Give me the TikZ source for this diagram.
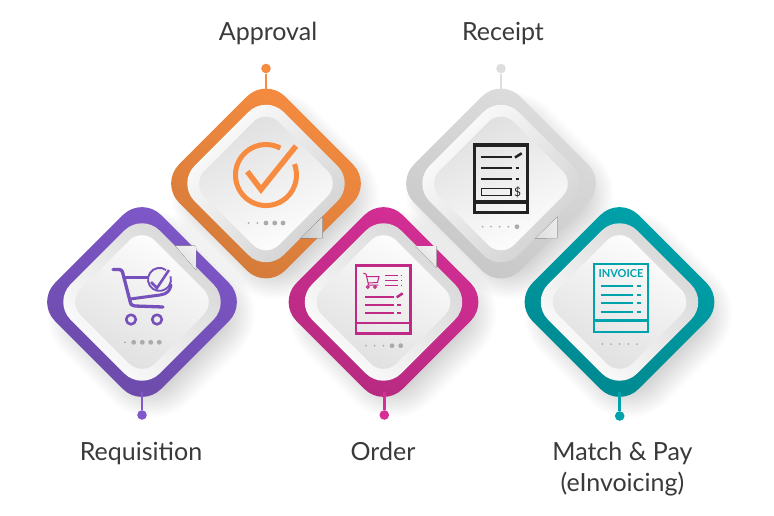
\documentclass[tikz,border=0pt]{standalone}
\usepackage{fontspec}
\setmainfont{Lato}
\newfontfamily\iconfont{Lato}
\definecolor{purA}{HTML}{8058CB}\definecolor{purB}{HTML}{6A4AA8}
\definecolor{oraA}{HTML}{F78C40}\definecolor{oraB}{HTML}{D27A3A}
\definecolor{magA}{HTML}{D52E95}\definecolor{magB}{HTML}{B52A80}
\definecolor{gryA}{HTML}{DEDEDE}\definecolor{gryB}{HTML}{C6C6C6}
\definecolor{teaA}{HTML}{00A3AC}\definecolor{teaB}{HTML}{00878E}
\definecolor{inkK}{HTML}{222222}
\definecolor{labelK}{HTML}{3A3A3A}
\definecolor{dotK}{HTML}{ABABAB}
\tikzset{
  x=1pt,y=-1pt,
  rdia/.style={rectangle,rotate=45,inner sep=0pt,outer sep=0pt},
  outerdia/.style 2 args={rdia,minimum size=150pt,rounded corners=27pt,left color=#1,right color=#2,shading angle=-25},
  ringup/.style={rdia,minimum size=126pt,rounded corners=25pt,top color=gryB!75,middle color=white,bottom color=white,shading angle=-45},
  ringdn/.style={rdia,minimum size=126pt,rounded corners=25pt,top color=white,middle color=white,bottom color=gryB!85,shading angle=45},
  coreup/.style={rdia,minimum size=105pt,rounded corners=18pt,top color=white,bottom color=gryA,shading angle=-25},
  coredn/.style={rdia,minimum size=105pt,rounded corners=18pt,top color=gryA,bottom color=white,shading angle=25},
  shadowdia/.style={rectangle,rotate=45,inner sep=0pt,fill=black,fill opacity=0.011},
  stemline/.style={line width=2.6pt},
  enddot/.style={circle,inner sep=0pt,minimum size=9.6pt},
  caption/.style={text=labelK,font=\fontsize{25}{30}\selectfont,anchor=base},
  pip/.style={circle,fill=dotK,inner sep=0pt,minimum size=2pt},
  pipbig/.style={circle,fill=dotK,inner sep=0pt,minimum size=4.8pt},
  flapup/.style={left color=white!92!black,right color=gryA},
}
\newcommand{\softshadow}[2]{%
  \foreach \k in {0,...,15}{
    \pgfmathsetmacro{\sz}{118+4*\k}
    \pgfmathsetmacro{\rr}{24+2*\k}
    \node[shadowdia,minimum size=\sz pt,rounded corners=\rr pt] at (#1+9,#2+12) {};
  }}
\begin{document}
\begin{tikzpicture}
\useasboundingbox (0,0) rectangle (774,515);
\fill[white] (0,0) rectangle (774,515);
\softshadow{142}{302}\softshadow{266}{183.5}\softshadow{383.5}{302}\softshadow{501}{183.5}\softshadow{619.5}{302}

% ---- Approval
\node[outerdia={oraA}{oraB}] (appr) at (266,183.5) {};
\node[ringdn] (apprring) at (266,183.5) {};
\node[coredn] (apprcore) at (266,183.5) {};
\fill[left color=gryB,right color=gryA] (300,238.5) -- (322.7,238) -- (322.7,216.5) -- cycle;
\node[enddot,fill=oraA] (apprdot) at (266,68.5) {};
\coordinate (apprfoot) at (266,92);
\draw[stemline,oraA] (apprdot) -- (apprfoot);

% ---- Receipt
\node[outerdia={gryA}{gryB}] (rcpt) at (501,183.5) {};
\node[ringdn] (rcptring) at (501,183.5) {};
\node[coredn] (rcptcore) at (501,183.5) {};
\fill[left color=gryB!60,right color=gryA!60] (535,238.5) -- (557.7,238) -- (557.7,216.5) -- cycle;
\node[enddot,fill=gryA] (rcptdot) at (501,68.5) {};
\coordinate (rcptfoot) at (501,92);
\draw[stemline,gryA] (rcptdot) -- (rcptfoot);

% ---- Requisition
\node[outerdia={purA}{purB}] (reqn) at (142,302) {};
\node[ringup] (reqnring) at (142,302) {};
\node[coreup] (reqncore) at (142,302) {};
\fill[bottom color=gryA,top color=white!94!black,shading angle=-45] (175,245.5) -- (194,245.5) .. controls (195.5,245.5) and (196,246.5) .. (196,248) -- (196,270) -- cycle;
\node[enddot,fill=purA] (reqndot) at (142,415) {};
\coordinate (reqnfoot) at (142,392);
\draw[stemline,purA] (reqndot) -- (reqnfoot);

% ---- Order
\node[outerdia={magA}{magB}] (ordr) at (383.5,302) {};
\node[ringup] (ordrring) at (383.5,302) {};
\node[coreup] (ordrcore) at (383.5,302) {};
\fill[bottom color=gryA,top color=white!94!black,shading angle=-45] (415,246) -- (436.7,246) -- (436.7,268) -- cycle;
\node[enddot,fill=magA] (ordrdot) at (384.3,415) {};
\coordinate (ordrfoot) at (384.3,392);
\draw[stemline,magA] (ordrdot) -- (ordrfoot);

% ---- Match & Pay
\node[outerdia={teaA}{teaB}] (mtch) at (619.5,302) {};
\node[ringup] (mtchring) at (619.5,302) {};
\node[coreup] (mtchcore) at (619.5,302) {};
\node[enddot,fill=teaA] (mtchdot) at (619.7,416) {};
\coordinate (mtchfoot) at (619.7,392);
\draw[stemline,teaA] (mtchdot) -- (mtchfoot);

% ---- cart icon
\begin{scope}[purA!92!black,line cap=round,line join=round]
\draw[line width=3.3pt] (113,269.5) -- (119,269.5) .. controls (121,269.5) and (122,270.5) .. (122.5,272) -- (130,301) .. controls (130.5,304.5) and (132,306) .. (135,306) -- (163,307);
\draw[line width=3pt] (124,277.5) -- (150,277.5);
\draw[line width=3pt] (130,299) -- (160,295) .. controls (167,294) and (170,291) .. (171,285);
\draw[line width=2.6pt] (131,319.5) circle[radius=4.8pt];
\draw[line width=2.6pt] (157,319.5) circle[radius=4.8pt];
\fill[white!95!black] (159.5,279.5) circle[radius=11pt];
\draw[line width=1.9pt,line cap=butt] (166.1,270) arc[start angle=55,end angle=375,radius=11.5pt];
\draw[line width=2.6pt,line cap=butt,line join=miter] (151,282) -- (157,288) -- (169,270);
\end{scope}

% ---- approval icon
\draw[oraA,line width=5pt] (280.3,148.1) arc[start angle=62,end angle=381,radius=30.5pt];
\draw[oraA,line width=5.5pt,line join=miter] (247.3,171.5) -- (261,189.5) -- (296,146);

% ---- order icon
\begin{scope}[magA!90!black]
\draw[line width=2.8pt] (356,265.5) rectangle (410.5,333.5);
\draw[line width=2.6pt] (356,323) -- (410.5,323);
\draw[line width=1pt,line join=round] (363.3,273.3) -- (366,274) -- (368.6,285) -- (378.3,285);
\draw[line width=1pt] (366.2,276.5) -- (379,276.5) -- (377.5,282.5) -- (367.8,283);
\draw[line width=1pt] (367.7,287) circle[radius=1.4pt];
\draw[line width=1pt] (375,287) circle[radius=1.4pt];
\foreach \yy in {275.7,280.3,285.3}{
  \draw[line width=1pt] (385,\yy) -- (398.3,\yy);
  \draw[line width=1pt] (400.5,\yy) -- (402,\yy);
}
\foreach \yy in {297,305.3,313.3}
  \draw[line width=2.3pt] (365,\yy) -- (394,\yy);
\draw[line width=2.5pt] (396.7,297.3) -- (402.7,293.3);
\foreach \yy in {305.3,313.3}
  \draw[line width=2.3pt] (397.3,\yy) -- (400.5,\yy);
\end{scope}

% ---- receipt icon
\begin{scope}[inkK]
\draw[line width=3.4pt] (474.5,145) rectangle (527.5,212.5);
\draw[line width=3.4pt] (474.5,202) -- (527.5,202);
\foreach \yy in {157.3,168.3,179.3}
  \draw[line width=2pt] (481,\yy) -- (511.7,\yy);
\draw[line width=2.5pt] (515,157.5) -- (521.7,153.3);
\foreach \yy in {168.3,179.3}
  \draw[line width=2.3pt] (515.7,\yy) -- (519,\yy);
\draw[line width=1.2pt] (481.7,188.3) rectangle (511,195.7);
\node[text=inkK,font=\fontsize{12}{12}\selectfont,inner sep=0pt] (rcptdollar) at (517.5,192) {\$};
\end{scope}

% ---- invoice icon
\begin{scope}[teaA]
\draw[line width=2.8pt] (594,264) rectangle (648,332);
\draw[line width=2.6pt] (594,320.7) -- (648,320.7);
\node[text=teaA,font=\fontsize{11}{11}\bfseries\selectfont,inner sep=0pt] (invtext) at (621,274) {INVOICE};
\foreach \yy in {286.3,295,303.3,312}{
  \draw[line width=2pt] (601,\yy) -- (633.3,\yy);
  \draw[line width=2pt] (637.3,\yy) -- (641,\yy);
}
\end{scope}

% ---- pips
\node[pip] (a1) at (125,342.3) {};\node[pipbig] (a2) at (133.7,342.3) {};\node[pipbig] (a3) at (142.3,342.3) {};\node[pipbig] (a4) at (150.7,342.3) {};\node[pipbig] (a5) at (159.3,342.3) {};
\node[pip] (b1) at (248.7,223) {};\node[pip] (b2) at (257.3,223) {};\node[pipbig] (b3) at (266,223) {};\node[pipbig] (b4) at (274.7,223) {};\node[pipbig] (b5) at (283,223) {};
\node[pip] (c1) at (366,345.7) {};\node[pip] (c2) at (374.7,345.7) {};\node[pip] (c3) at (383.3,345.7) {};\node[pipbig] (c4) at (392,345.7) {};\node[pipbig] (c5) at (400.7,345.7) {};
\node[pip] (d1) at (482.7,226.7) {};\node[pip] (d2) at (491,226.7) {};\node[pip] (d3) at (499.7,226.7) {};\node[pip] (d4) at (508.3,226.7) {};\node[pipbig] (d5) at (517,226.7) {};
\node[pip] (e1) at (602.3,344) {};\node[pip] (e2) at (611,344) {};\node[pip] (e3) at (619.7,344) {};\node[pip] (e4) at (628.3,344) {};\node[pip] (e5) at (637,344) {};

% ---- captions
\node[caption] (capappr) at (268,40) {Approval};
\node[caption] (caprcpt) at (503,40) {Receipt};
\node[caption] (capreqn) at (141,460) {Requisition};
\node[caption] (capordr) at (383,460) {Order};
\node[caption] (capmtcha) at (622.5,460) {Match \& Pay};
\node[caption] (capmtchb) at (622.5,491) {(eInvoicing)};
\end{tikzpicture}
\end{document}
